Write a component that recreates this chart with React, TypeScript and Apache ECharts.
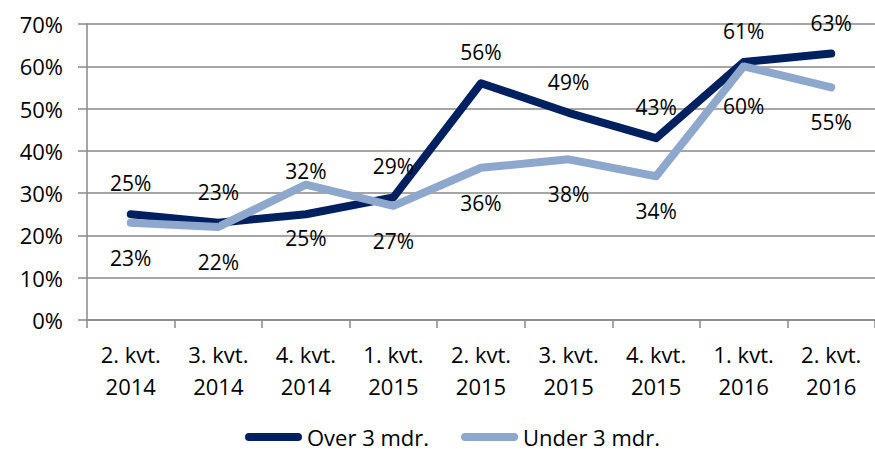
import React, { useEffect, useRef } from "react";
import * as echarts from "echarts";

const categories = [
  "2. kvt.\n2014",
  "3. kvt.\n2014",
  "4. kvt.\n2014",
  "1. kvt.\n2015",
  "2. kvt.\n2015",
  "3. kvt.\n2015",
  "4. kvt.\n2015",
  "1. kvt.\n2016",
  "2. kvt.\n2016",
];
const over3 = [25, 23, 25, 29, 56, 49, 43, 61, 63];
const under3 = [23, 22, 32, 27, 36, 38, 34, 60, 55];

const FONT = "'Open Sans', sans-serif";
const LEGEND_ICON = "path://M4,0 L53,0 A4,4 0 0 1 53,8 L4,8 A4,4 0 0 1 4,0 Z";

// label placement styling (position, distance) per point index
const overLabelStyle: Record<number, { position: string; distance: number }> = {
  2: { position: "bottom", distance: 13 },
};
const underLabelStyle: Record<number, { position: string; distance: number }> = {
  2: { position: "top", distance: 3 },
  7: { position: "bottom", distance: 29 },
};

export default function App() {
  const ref = useRef<HTMLDivElement>(null);
  useEffect(() => {
    if (!ref.current) return;
    const chart = echarts.init(ref.current, null, { renderer: "svg" });
    const lbl = { fontFamily: FONT, fontSize: 21, color: "#000" };
    chart.setOption({
      animation: false,
      textStyle: { fontFamily: FONT },
      grid: { left: 87, top: 24, width: 797, height: 296, containLabel: false },
      legend: {
        left: 240,
        top: 426,
        padding: [0, 5, 0, 5],
        itemWidth: 57,
        itemHeight: 8,
        itemGap: 32,
        icon: LEGEND_ICON,
        textStyle: { fontFamily: FONT, fontSize: 22, lineHeight: 20, color: "#000" },
        data: ["Over 3 mdr.", "Under 3 mdr."],
      },
      xAxis: {
        type: "category",
        data: categories,
        boundaryGap: true,
        axisLine: { lineStyle: { color: "#888", width: 1.5 } },
        axisTick: { show: true, length: 8, lineStyle: { color: "#888", width: 1.5 } },
        axisLabel: { fontFamily: FONT, fontSize: 22, color: "#000", lineHeight: 32, margin: 18, interval: 0 },
        splitLine: { show: false },
      },
      yAxis: {
        type: "value",
        min: 0,
        max: 70,
        interval: 10,
        axisLine: { show: true, lineStyle: { color: "#888", width: 1.5 } },
        axisTick: { show: true, length: 9, lineStyle: { color: "#888", width: 1.5 } },
        axisLabel: { fontFamily: FONT, fontSize: 22, color: "#000", formatter: "{value}%", margin: 24 },
        splitLine: { show: true, lineStyle: { color: "#888", width: 1.5 } },
      },
      series: [
        {
          name: "Over 3 mdr.",
          type: "line",
          symbol: "circle",
          symbolSize: 1,
          showSymbol: true,
          data: over3.map((v, i) => ({
            value: v,
            label: overLabelStyle[i] || { position: "top", distance: 20 },
          })),
          lineStyle: { color: "#002060", width: 8, cap: "round", join: "round" },
          itemStyle: { color: "#002060" },
          label: { show: true, formatter: "{c}%", ...lbl },
        },
        {
          name: "Under 3 mdr.",
          type: "line",
          symbol: "circle",
          symbolSize: 1,
          showSymbol: true,
          data: under3.map((v, i) => ({
            value: v,
            label: underLabelStyle[i] || { position: "bottom", distance: 24 },
          })),
          lineStyle: { color: "#8EA7CC", width: 8, cap: "round", join: "round" },
          itemStyle: { color: "#8EA7CC" },
          label: { show: true, formatter: "{c}%", ...lbl },
        },
      ],
    });
    return () => chart.dispose();
  }, []);
  return (
    <div
      ref={ref}
      style={{ position: "fixed", left: 0, top: 0, width: 875, height: 452, background: "#fff" }}
    />
  );
}
